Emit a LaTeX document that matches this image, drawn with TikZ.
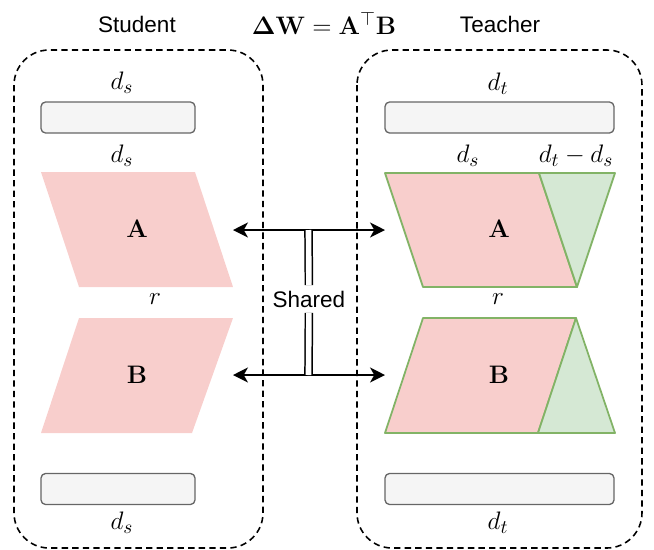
\documentclass[tikz,border=0pt]{standalone}
\usepackage{amsmath}
\usepackage[no-math]{fontspec}
\newfontfamily\labelsans{Liberation Sans}
\usetikzlibrary{arrows.meta}
\definecolor{pinkfill}{HTML}{F8CECC}
\definecolor{greenfill}{HTML}{D5E8D4}
\definecolor{greenline}{HTML}{82B366}
\definecolor{barfill}{HTML}{F5F5F5}
\definecolor{barline}{HTML}{666666}

\begin{document}
\begin{tikzpicture}[x=0.02cm, y=-0.02cm, line join = round,
  group/.style={draw, line width=0.9pt, dash pattern=on 3.6pt off 2.4pt, rounded corners=20pt},
  bar/.style={draw=barline, fill=barfill, line width=0.75pt, rounded corners=2.5pt,
    minimum height=17.6pt, inner sep=0pt},
  mathlbl/.style={font=\fontsize{15}{17}\selectfont, inner sep=1pt},
  sanslbl/.style={font=\labelsans\fontsize{12.8}{15}\selectfont, inner sep=1pt},
  tchr/.style={draw=greenline, line width=1pt},
  shr/.style={{Stealth[length=8.5pt,width=8.5pt,inset=2.4pt]}-{Stealth[length=8.5pt,width=8.5pt,inset=2.4pt]}, line width=0.85pt}]
\useasboundingbox (0,0) rectangle (654,549);

\node[sanslbl] (stu) at (137,24) {Student};
\node[sanslbl] (tea) at (500,24) {Teacher};
\node[font=\fontsize{15.2}{17}\selectfont] (eq) at (324,23) {$\mathbf{\Delta W} = \mathbf{A}^{\top}\mathbf{B}$};

\draw[group] (14,50) rectangle (263,548);
\draw[group] (357,50) rectangle (642,548);

\node[bar, minimum width=87.6pt] (sTop) at (118,117.5) {};
\node[bar, minimum width=130.3pt] (tTop) at (499.5,117.5) {};
\node[bar, minimum width=87.6pt] (sBot) at (118,489) {};
\node[bar, minimum width=130.3pt] (tBot) at (499.5,489) {};

\fill[pinkfill] (41,172) -- (195,172) -- (233,287) -- (79,287) -- cycle;
\fill[pinkfill] (79,318) -- (233,318) -- (192,433) -- (41,433) -- cycle;

\filldraw[tchr, fill=pinkfill] (385,173) -- (539,173) -- (577,287) -- (423,287) -- cycle;
\filldraw[tchr, fill=greenfill] (539,173) -- (615,173) -- (577,287) -- cycle;
\filldraw[tchr, fill=pinkfill] (423,318) -- (576,318) -- (538,433) -- (385,433) -- cycle;
\filldraw[tchr, fill=greenfill] (576,318) -- (615,433) -- (538,433) -- cycle;

\node[mathlbl] (dsTop) at (122,83) {$d_s$};
\node[mathlbl] (dsMid) at (122,156) {$d_s$};
\node[mathlbl] (dsBot) at (122,523) {$d_s$};
\node[mathlbl] (dtTop) at (498,84) {$d_t$};
\node[mathlbl] (dtBot) at (498,523) {$d_t$};
\node[mathlbl] (dsT) at (468,156) {$d_s$};
\node[mathlbl] (dtds) at (576,156) {$d_t - d_s$};
\node[mathlbl] (rS) at (155,299) {$r$};
\node[mathlbl] (rT) at (498,299) {$r$};
\node[mathlbl] (sA) at (137,229) {$\mathbf{A}$};
\node[mathlbl] (sB) at (137,375) {$\mathbf{B}$};
\node[mathlbl] (tA) at (499,229) {$\mathbf{A}$};
\node[mathlbl] (tB) at (499,375) {$\mathbf{B}$};

\coordinate (aL) at (233,230);
\coordinate (aR) at (385,230);
\coordinate (bL) at (233,375);
\coordinate (bR) at (385,375);
\coordinate (shTop) at (308.5,230);
\coordinate (shBot) at (308.5,375);
\node[sanslbl, inner sep=3pt] (shared) at (309,299) {Shared};

\draw[shr] (aL) -- (aR);
\draw[shr] (bL) -- (bR);
\draw[line width=0.85pt, double, double distance=3.2pt] (shTop) -- (shared) -- (shBot);
\end{tikzpicture}
\end{document}
